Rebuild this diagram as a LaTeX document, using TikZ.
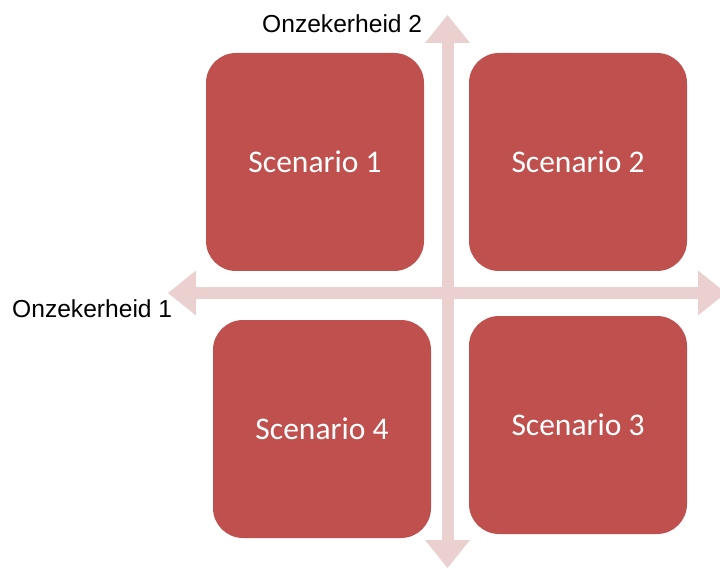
\documentclass[tikz,border=0pt]{standalone}
\usepackage{fontspec}
\setmainfont{Liberation Sans}
\newfontfamily\scenfont{Carlito}
\usepackage{tikz}
\usetikzlibrary{arrows.meta}

\definecolor{scenred}{HTML}{C0504D}
\definecolor{axispink}{RGB}{234,208,207}

\begin{document}
\begin{tikzpicture}[x=1pt, y=-1pt,
    axis/.style={draw=axispink, line width=12pt,
      {Triangle[length=28pt, width=45pt, line width=0pt]}-{Triangle[length=28pt, width=45pt, line width=0pt]}},
    scenbox/.style={fill=scenred, rounded corners=30pt, minimum width=218pt, minimum height=218pt,
      inner sep=0pt, text=white, font=\scenfont\fontsize{31.5}{36}\selectfont},
    axislabel/.style={anchor=base west, inner sep=0pt, font=\fontsize{24.6}{28}\selectfont}]
  % Page frame
  \clip (0,0) rectangle (720,569);

  % Axes ends
  \coordinate (ytop) at (447.5,15);
  \coordinate (ybot) at (447.5,568);
  \coordinate (xleft) at (168,293);
  \coordinate (xright) at (726,293);

  % Cross of uncertainties
  \draw[axis] (ybot) -- (ytop);
  \draw[axis] (xleft) -- (xright);

  % Scenarios
  \node[scenbox] (scen1) at (315,162) {Scenario 1};
  \node[scenbox] (scen2) at (578,162) {Scenario 2};
  \node[scenbox] (scen3) at (578,425) {Scenario 3};
  \node[scenbox] (scen4) at (322,429) {Scenario 4};

  % Axis labels
  \node[axislabel] (onz1) at (12,317) {Onzekerheid 1};
  \node[axislabel] (onz2) at (262,33) {Onzekerheid 2};
\end{tikzpicture}
\end{document}
